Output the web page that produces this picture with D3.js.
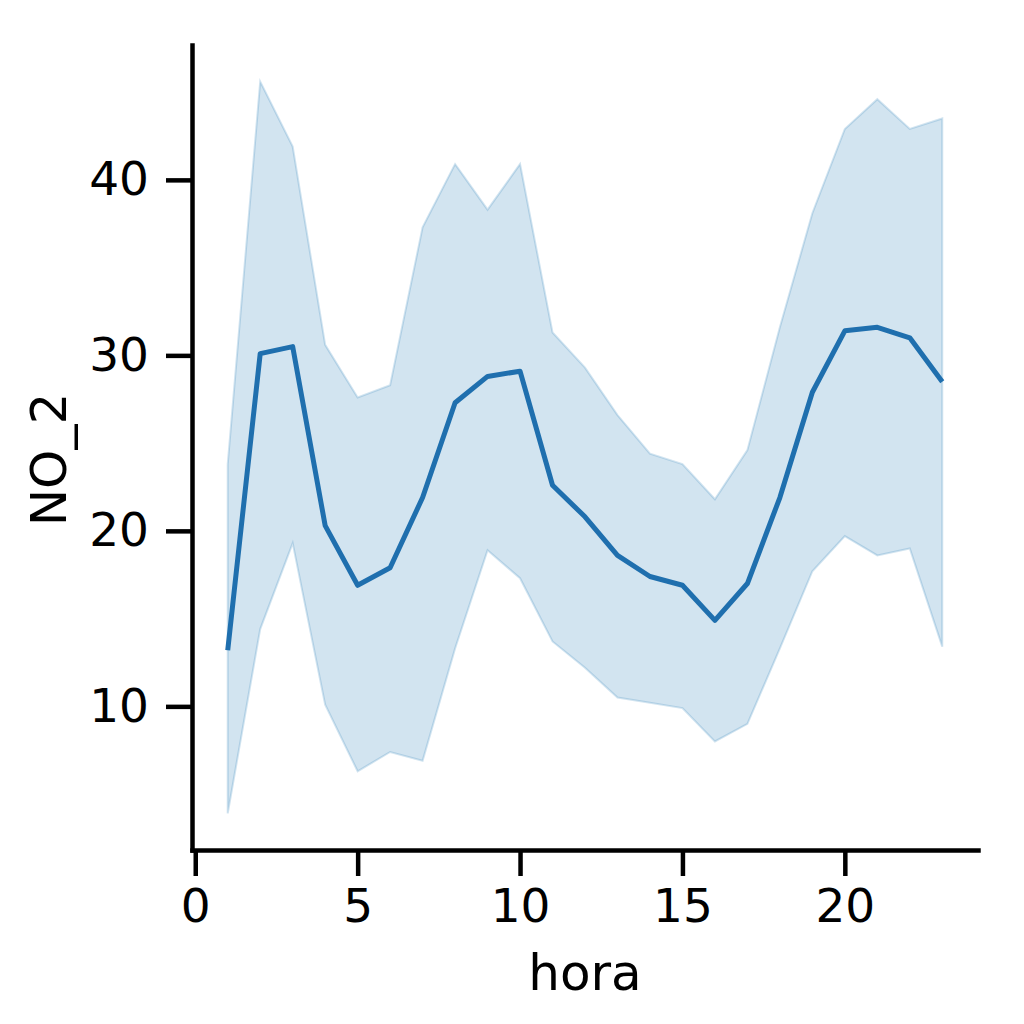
<!DOCTYPE html>
<html>
<head>
<meta charset="utf-8">
<script src="https://cdn.jsdelivr.net/npm/d3@7"></script>
<style>
  body { margin: 0; background: #fff; }
  text { font-family: "DejaVu Sans", sans-serif; fill: #000; }
</style>
</head>
<body>
<div id="chart"></div>
<script>
// hourly NO_2: mean line and confidence band
var hours = [1, 2, 3, 4, 5, 6, 7, 8, 9, 10, 11, 12, 13, 14, 15, 16, 17, 18, 19, 20, 21, 22, 23];
var meanNO2 = [13.2, 30.1, 30.5, 20.3, 16.9, 17.9, 21.9, 27.3, 28.8, 29.1, 22.6, 20.8, 18.6, 17.4, 16.9, 14.9, 17.0, 21.9, 27.9, 31.4, 31.6, 31.0, 28.5];
var upperNO2 = [23.8, 45.6, 41.9, 30.6, 27.6, 28.3, 37.3, 40.9, 38.3, 40.9, 31.3, 29.3, 26.6, 24.4, 23.8, 21.8, 24.6, 31.6, 38.1, 42.9, 44.6, 42.9, 43.5];
var lowerNO2 = [3.9, 14.4, 19.3, 10.1, 6.3, 7.4, 6.9, 13.3, 18.9, 17.3, 13.7, 12.2, 10.5, 10.2, 9.9, 8.0, 9.0, 13.3, 17.7, 19.7, 18.6, 19.0, 13.4];
var xTicks = [0, 5, 10, 15, 20];
var yTicks = [10, 20, 30, 40];

var width = 1024, height = 1024;
var margin = {top: 45, right: 46, bottom: 174, left: 192};

var svg = d3.select("#chart")
  .append("svg")
    .attr("width", width)
    .attr("height", height);

var rows = hours.map(function(h, i) {
  return {h: h, m: meanNO2[i], lo: lowerNO2[i], hi: upperNO2[i]};
});

// matplotlib style 5% margins
var xPad = (d3.max(hours) - d3.min(hours)) * 0.05;
var yMin = d3.min(lowerNO2), yMax = d3.max(upperNO2);
var yPad = (yMax - yMin) * 0.05;

var x = d3.scaleLinear()
  .domain([d3.min(hours) - xPad, d3.max(hours) + xPad])
  .range([margin.left, width - margin.right]);

var y = d3.scaleLinear()
  .domain([yMin - yPad, yMax + yPad])
  .range([height - margin.bottom, margin.top]);

var band = d3.area()
  .x(function(d) { return x(d.h); })
  .y0(function(d) { return y(d.lo); })
  .y1(function(d) { return y(d.hi); });

svg.append("path")
  .datum(rows)
  .attr("d", band)
  .attr("fill", "#1f77b4")
  .attr("fill-opacity", 0.2)
  .attr("stroke", "#1f77b4")
  .attr("stroke-opacity", 0.2)
  .attr("stroke-width", 2);

var line = d3.line()
  .x(function(d) { return x(d.h); })
  .y(function(d) { return y(d.m); });

svg.append("path")
  .datum(rows)
  .attr("d", line)
  .attr("fill", "none")
  .attr("stroke", "#1f6fae")
  .attr("stroke-width", 5)
  .attr("stroke-linejoin", "round");

// axes
var xAxis = svg.append("g")
  .attr("transform", "translate(0," + (height - margin.bottom) + ")")
  .call(d3.axisBottom(x).tickValues(xTicks).tickSize(26).tickPadding(13).tickSizeOuter(0));

var yAxis = svg.append("g")
  .attr("transform", "translate(" + margin.left + ",0)")
  .call(d3.axisLeft(y).tickValues(yTicks).tickSize(26).tickPadding(17).tickSizeOuter(0));

[xAxis, yAxis].forEach(function(a) {
  a.select(".domain").attr("stroke", "#000").attr("stroke-width", 4.5).attr("stroke-linecap", "square");
  a.selectAll(".tick line").attr("stroke", "#000").attr("stroke-width", 4.5);
  a.selectAll(".tick text")
    .style("font-family", "'DejaVu Sans', sans-serif")
    .style("font-size", "47px")
    .attr("fill", "#000");
});

svg.append("text")
  .attr("x", (x.range()[0] + x.range()[1]) / 2)
  .attr("y", 990)
  .attr("text-anchor", "middle")
  .style("font-size", "50px")
  .text("hora");

svg.append("text")
  .attr("transform", "translate(66," + ((y.range()[0] + y.range()[1]) / 2 + 12) + ") rotate(-90)")
  .attr("text-anchor", "middle")
  .style("font-size", "50px")
  .text("NO_2");
</script>
</body>
</html>
